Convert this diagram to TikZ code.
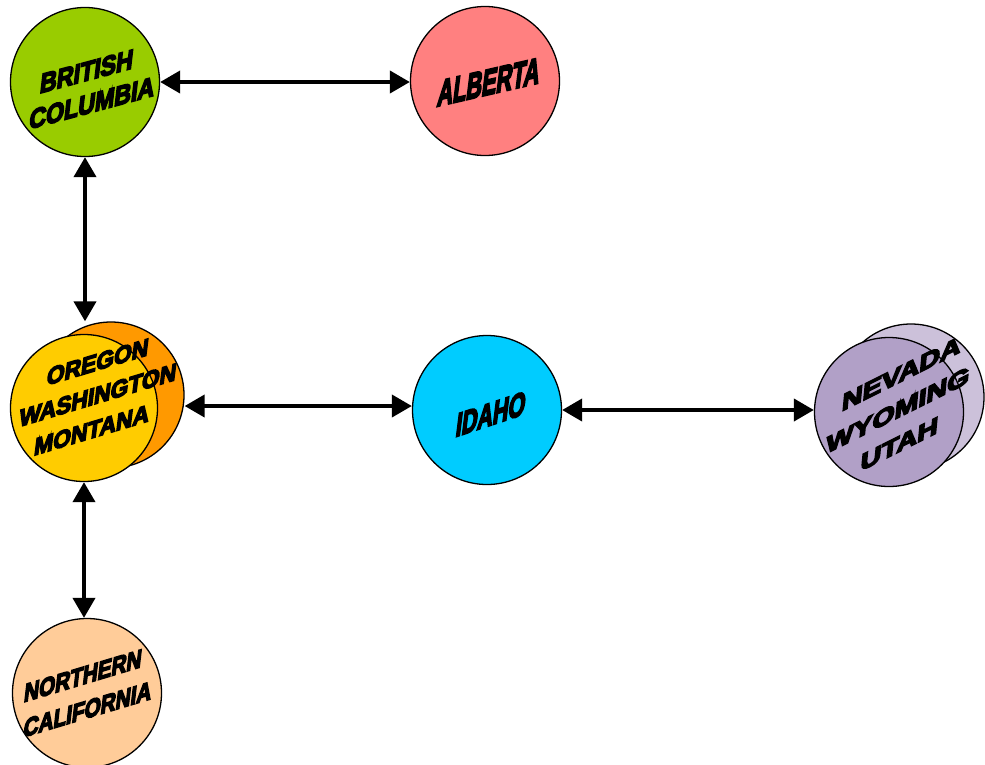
\documentclass[tikz,border=0pt]{standalone}
\usepackage{fontspec}
\newfontfamily\heavyfam[FakeBold=6]{Liberation Sans Bold}
\newcommand\heavy{\heavyfam}
\usetikzlibrary{arrows.meta}
\definecolor{cgreen}{HTML}{99CC00}
\definecolor{cpink}{HTML}{FF8080}
\definecolor{cyel}{HTML}{FFCC00}
\definecolor{corange}{HTML}{FF9900}
\definecolor{ccyan}{HTML}{00CCFF}
\definecolor{cpurp}{HTML}{B1A0C7}
\definecolor{clpurp}{HTML}{CCC1DA}
\definecolor{cpeach}{HTML}{FFCC99}
\tikzset{
  state/.style={circle,draw=black,line width=1.3pt,inner sep=0pt,minimum size=#1},
  state/.default=149pt,
  lbl/.style={align=center,inner sep=0pt},
  arr/.style={line width=4pt,{Triangle[length=20pt,width=22pt]}-{Triangle[length=20pt,width=22pt]}}
}
\begin{document}
\begin{tikzpicture}[x=1pt,y=-1pt]
\useasboundingbox (0,0) rectangle (985,764);
% circles
\node[state,fill=cgreen] (bc) at (85,82) {};
\node[state,fill=cpink] (ab) at (485,81) {};
\node[state=146pt,fill=corange] (orb) at (111,395) {};
\node[state=147pt,fill=cyel] (orf) at (84,408) {};
\node[state,fill=ccyan] (id) at (487,410) {};
\node[state=146pt,fill=clpurp] (nvb) at (911,397) {};
\node[state,fill=cpurp] (nvf) at (889,412) {};
\node[state,fill=cpeach] (nc) at (87,693) {};
% labels
\node[lbl,yslant=0.27,xslant=0.12,xscale=1.16,yscale=1.35,font=\heavy\fontsize{20}{24.5}\selectfont] (tbc) at (90,87) {BRITISH\hspace*{9pt}\\\hspace*{7pt}COLUMBIA};
\node[lbl,yslant=0.23,xslant=0.13,xscale=1.14,yscale=1.9,font=\heavy\fontsize{19}{24}\selectfont] (tab) at (489,82) {ALBERTA};
\node[lbl,yslant=0.3,xslant=0.13,xscale=1.2,yscale=1.25,font=\heavy\fontsize{19}{26.5}\selectfont] (tor) at (98,395) {OREGON\hspace*{7.5pt}\\WASHINGTON\\MONTANA\hspace*{3pt}};
\node[lbl,yslant=0.33,xslant=0.13,xscale=1.13,yscale=1.7,font=\heavy\fontsize{19}{24}\selectfont] (tid) at (491,414) {IDAHO};
\node[lbl,yslant=0.5,xslant=0.1,xscale=1.3,yscale=1.05,font=\heavy\fontsize{22}{33}\selectfont] (tnv) at (898,410) {NEVADA\\WYOMING\\\hspace*{7.5pt}UTAH};
\node[lbl,yslant=0.3,xslant=0.12,xscale=1.15,yscale=1.4,font=\heavy\fontsize{18}{25}\selectfont] (tnc) at (87,692) {NORTHERN\hspace*{10.5pt}\\\hspace*{5pt}CALIFORNIA};
% connectors
\draw[arr] (bc.east) -- (bc.east -| ab.west);
\draw[arr] (bc.south) -- (orb.north -| bc.south);
\draw[arr] ([yshift=4pt]id.west -| orb.east) -- ([yshift=4pt]id.west);
\draw[arr] (id.east) -- (id.east -| nvf.west);
\draw[arr] (orf.south) -- (orf.south |- nc.north);
\end{tikzpicture}
\end{document}
